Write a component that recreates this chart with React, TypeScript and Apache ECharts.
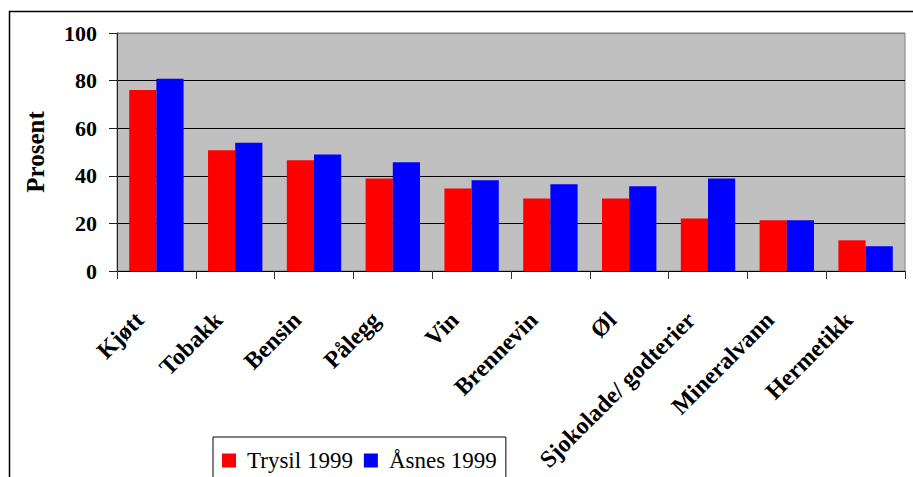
import React, { useEffect, useRef } from "react";
import * as echarts from "echarts";

const categories = [
  "Kjøtt",
  "Tobakk",
  "Bensin",
  "Pålegg",
  "Vin",
  "Brennevin",
  "Øl",
  "Sjokolade/ godterier",
  "Mineralvann",
  "Hermetikk",
];
const trysil1999 = [76, 50.7, 46.5, 38.9, 34.7, 30.5, 30.5, 22.1, 21.3, 12.9];
const asnes1999 = [80.8, 53.9, 49, 45.7, 38.1, 36.4, 35.6, 38.9, 21.3, 10.4];
const seriesNames = ["Trysil 1999", "Åsnes 1999"];
const yAxisTitle = "Prosent";

const FONT = "Liberation Serif";

export default function App() {
  const ref = useRef<HTMLDivElement>(null);
  useEffect(() => {
    document.body.style.margin = "0";
    const chart = echarts.init(ref.current!, undefined, { renderer: "svg" });
    chart.setOption({
      animation: false,
      backgroundColor: "#ffffff",
      grid: {
        left: 117,
        top: 33,
        right: 8,
        bottom: 206,
        show: true,
        backgroundColor: "#c0c0c0",
        borderColor: "#808080",
        borderWidth: 1,
      },
      legend: {
        left: 213,
        top: 437,
        itemWidth: 14,
        itemHeight: 14,
        itemGap: 11,
        icon: "rect",
        borderColor: "#000",
        borderWidth: 1,
        padding: [12, 9, 30, 9],
        textStyle: { fontFamily: FONT, fontSize: 23, color: "#000", padding: [0, 0, 0, 6] },
        data: seriesNames,
      },
      graphic: [
        {
          type: "rect",
          shape: { x: 9.5, y: 11.5, width: 1000, height: 1000 },
          style: { fill: "none", stroke: "#000", lineWidth: 1.5 },
          silent: true,
          z: -1,
        },
        {
          type: "text",
          x: 35,
          y: 152,
          rotation: Math.PI / 2,
          style: {
            text: yAxisTitle,
            align: "center",
            verticalAlign: "middle",
            fontFamily: FONT,
            fontSize: 25,
            fontWeight: "bold",
            fill: "#000",
          },
        },
      ],
      xAxis: {
        type: "category",
        data: categories,
        axisLine: { lineStyle: { color: "#000", width: 1 } },
        axisTick: { show: true, length: 8, interval: 0, lineStyle: { color: "#333" } },
        axisLabel: {
          interval: 0,
          rotate: 45,
          margin: 28,
          padding: [0, 24, 0, 0],
          fontFamily: FONT,
          fontSize: 24,
          fontWeight: "bold",
          color: "#000",
        },
      },
      yAxis: {
        type: "value",
        min: 0,
        max: 100,
        interval: 20,
        axisLine: { show: true, lineStyle: { color: "#222", width: 1 } },
        axisTick: { show: true, length: 8, lineStyle: { color: "#222" } },
        axisLabel: {
          margin: 20,
          fontFamily: FONT,
          fontSize: 22,
          fontWeight: "bold",
          color: "#000",
        },
        splitLine: {
          show: true,
          lineStyle: {
            color: ["#000", "#000", "#000", "#000", "#000", "#808080"],
            width: 1,
          },
        },
      },
      series: [
        {
          name: seriesNames[0],
          type: "bar",
          data: trysil1999,
          itemStyle: { color: "#ff0000" },
          barGap: "0%",
          barCategoryGap: "31%",
        },
        {
          name: seriesNames[1],
          type: "bar",
          data: asnes1999,
          itemStyle: { color: "#0000ff" },
          barGap: "0%",
          barCategoryGap: "31%",
        },
      ],
    });
    return () => chart.dispose();
  }, []);
  return (
    <div
      ref={ref}
      style={{ position: "fixed", left: 0, top: 0, width: 913, height: 477 }}
    />
  );
}
